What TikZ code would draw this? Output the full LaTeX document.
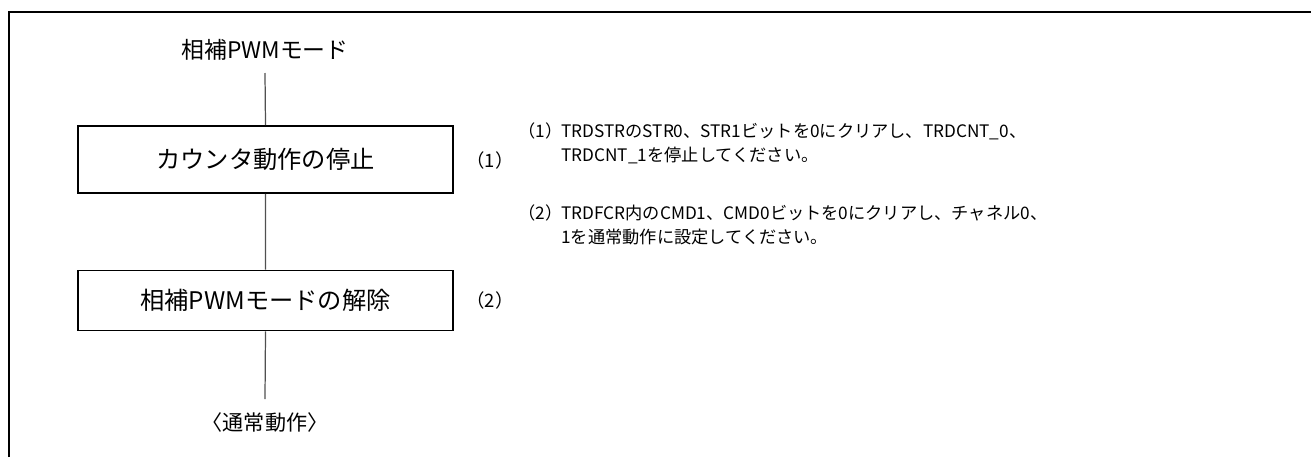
\documentclass[tikz,border=0pt]{standalone}
\usepackage{fontspec}
\setmainfont{Noto Sans CJK JP}
\usetikzlibrary{positioning}
\definecolor{cLine}{RGB}{80,80,80}

\begin{document}
\begin{tikzpicture}[x=0.02cm, y=-0.02cm,
            step box/.style={draw, line width=1.1pt, minimum width=7.5cm, inner sep=0pt,
                             font=\fontsize{13.8}{15}\selectfont},
            big/.style={inner sep=0pt, font=\fontsize{13}{15}\selectfont},
            note/.style={inner sep=0pt, anchor=base west,
                         font=\fontsize{9.8}{12}\selectfont},
            link/.style={cLine, line width=0.7pt}]
            \useasboundingbox (0,0) rectangle (1311,457);
            % frame (left and top only)
            \draw[line width=1.7pt] (9,457) -- (9,12) -- (1311,12);
            % flow
            \node[big] (start) at (265,50) {相補PWMモード};
            \coordinate (s1) at (265,73);
            \node[step box, minimum height=1.34cm] (stop) at (265.5,159.5) {カウンタ動作の停止};
            \node[step box, minimum height=1.2cm] (off) at (265.5,300.5) {相補PWMモードの解除};
            \coordinate (e1) at (265,399);
            \node[big, font=\fontsize{12}{14}\selectfont] (normal) at (265,422) {〈通常動作〉};
            \draw[link] (s1) -- (stop.north) (stop.south) -- (off.north) (off.south) -- (e1);
            % step numbers
            \node[note, anchor=west, font=\fontsize{10.5}{12}\selectfont] (n1) at (466,160) {（1）};
            \node[note, anchor=west, font=\fontsize{10.5}{12}\selectfont] (n2) at (466,300) {（2）};
            % notes
            \node[note] (l1) at (518,137) {（1）};
            \node[note] (t1a) at (561,137) {TRDSTRのSTR0、STR1ビットを0にクリアし、TRDCNT\_0、};
            \node[note] (t1b) at (561,161) {TRDCNT\_1を停止してください。};
            \node[note] (l2) at (518,219) {（2）};
            \node[note] (t2a) at (561,219) {TRDFCR内のCMD1、CMD0ビットを0にクリアし、チャネル0、};
            \node[note] (t2b) at (561,243) {1を通常動作に設定してください。};
        \end{tikzpicture}
\end{document}
